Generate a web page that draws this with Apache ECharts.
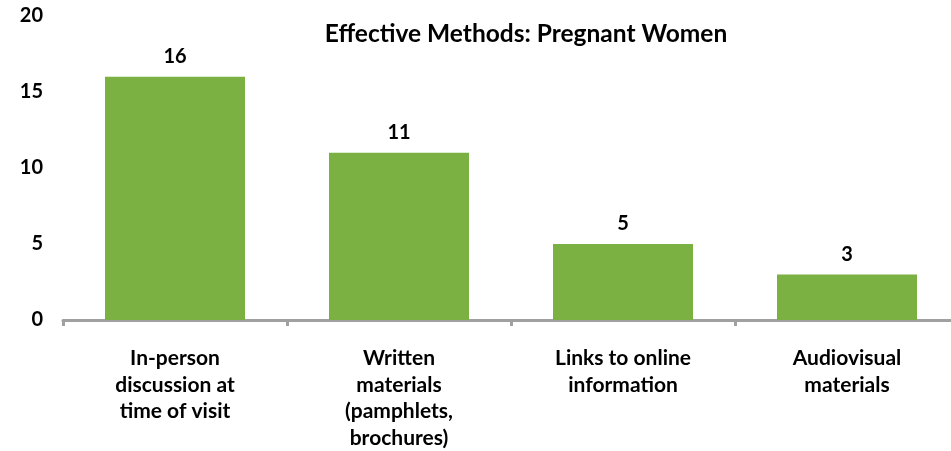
<!DOCTYPE html>
<html>
<head>
<meta charset="utf-8">
<script src="https://cdn.jsdelivr.net/npm/echarts@6/dist/echarts.min.js"></script>
<style>
  html, body { margin: 0; padding: 0; background: #fff; overflow: hidden; }
  #chart { width: 959px; height: 451px; }
</style>
</head>
<body>
<div id="chart"></div>
<script>
var categories = [
  'In-person\ndiscussion at\ntime of visit',
  'Written\nmaterials\n(pamphlets,\nbrochures)',
  'Links to online\ninformation',
  'Audiovisual\nmaterials'
];
var counts = [16, 11, 5, 3];
var yTicks = [0, 20, 5]; // min, max, interval

var font = 'Lato, "Open Sans", sans-serif';
// plot runs a little past the right edge of the window, like the original
var myChart = echarts.init(document.getElementById('chart'));
var option = {
  animation: false,
  title: {
    text: 'Effective Methods: Pregnant Women',
    left: 521,
    top: 17,
    textAlign: 'center',
    textStyle: { fontFamily: font, fontWeight: 'bold', fontSize: 24.5, color: '#000' }
  },
  grid: { left: 63, right: 0, top: 16, bottom: 131 },
  xAxis: {
    type: 'category',
    data: categories,
    axisLine: { lineStyle: { color: '#a0a0a0', width: 3 } },
    axisTick: { show: true, length: 6, lineStyle: { color: '#a0a0a0', width: 3 } },
    axisLabel: {
      margin: 25,
      interval: 0,
      fontFamily: font,
      fontWeight: 'bold',
      fontSize: 21,
      lineHeight: 26.5,
      color: '#000'
    }
  },
  yAxis: {
    type: 'value',
    min: yTicks[0],
    max: yTicks[1],
    interval: yTicks[2],
    axisLine: { show: false },
    axisTick: { show: false },
    splitLine: { show: false },
    axisLabel: {
      margin: 20,
      fontFamily: font,
      fontWeight: 'bold',
      fontSize: 20,
      color: '#000'
    }
  },
  series: [{
    type: 'bar',
    data: counts,
    barWidth: 140,
    itemStyle: { color: '#7ab142' },
    label: {
      show: true,
      position: 'top',
      distance: 10,
      fontFamily: font,
      fontWeight: 'bold',
      fontSize: 20,
      color: '#000'
    }
  }]
};
myChart.setOption(option);
window.addEventListener('resize', function () { myChart.resize(); });
</script>
</body>
</html>
